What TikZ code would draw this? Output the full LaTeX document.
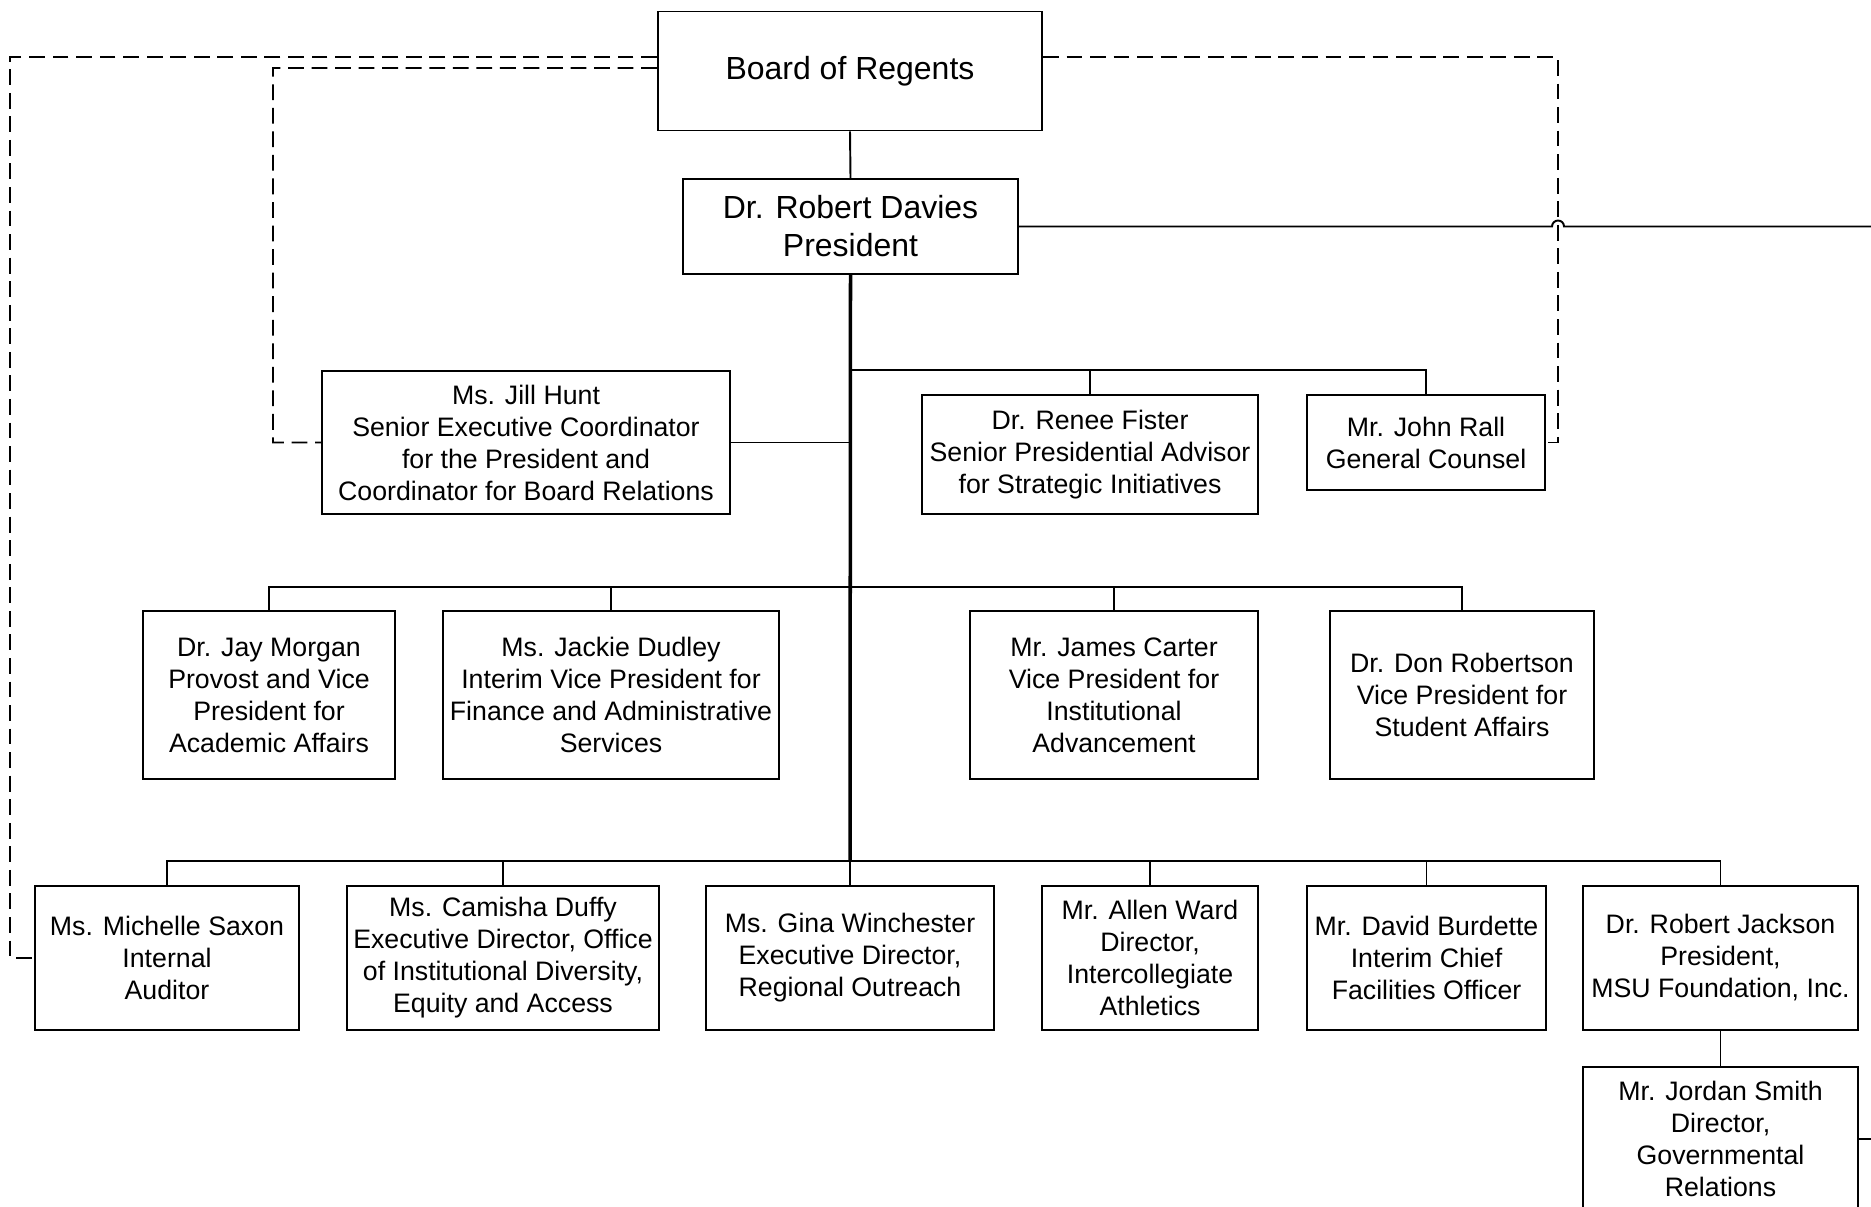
\documentclass[tikz,border=0pt]{standalone}
\usepackage{fontspec}
\setmainfont{Liberation Sans}
\usepackage{tikz}
\usetikzlibrary{positioning}

\begin{document}
\begin{tikzpicture}[
    unit/.style={rectangle, draw, line width=0.55pt, align=center, inner sep=1pt,
        font=\fontsize{7.6}{9.1}\selectfont},
    top/.style={unit, font=\fontsize{9.1}{10.8}\selectfont},
    link/.style={line width=0.55pt},
    trunk/.style={line width=1pt},
    dotted link/.style={line width=0.55pt, dash pattern=on 4.5pt off 2.2pt}
]
    \useasboundingbox (0,0) rectangle (18.71,-12.07);

    % Board and President
    \node[top, minimum width=3.84cm, minimum height=1.19cm] (board) at (8.50,-0.71) {Board of Regents};
    \node[top, minimum width=3.35cm, minimum height=0.95cm] (pres) at (8.505,-2.265) {Dr. Robert Davies\\President};

    % Staff level
    \node[unit, minimum width=4.08cm, minimum height=1.43cm] (hunt) at (5.26,-4.425) {Ms. Jill Hunt\\Senior Executive Coordinator\\for the President and\\Coordinator for Board Relations};
    \node[unit, minimum width=3.36cm, minimum height=1.19cm] (fister) at (10.90,-4.545) {Dr. Renee Fister\\Senior Presidential Advisor\\for Strategic Initiatives};
    \node[unit, minimum width=2.38cm, minimum height=0.95cm] (rall) at (14.26,-4.425) {Mr. John Rall\\General Counsel};

    % Vice presidents
    \node[unit, minimum width=2.52cm, minimum height=1.68cm] (morgan) at (2.69,-6.95) {Dr. Jay Morgan\\Provost and Vice\\President for\\Academic Affairs};
    \node[unit, minimum width=3.36cm, minimum height=1.68cm] (dudley) at (6.11,-6.95) {Ms. Jackie Dudley\\Interim Vice President for\\Finance and Administrative\\Services};
    \node[unit, minimum width=2.88cm, minimum height=1.68cm] (carter) at (11.14,-6.95) {Mr. James Carter\\Vice President for\\Institutional\\Advancement};
    \node[unit, minimum width=2.64cm, minimum height=1.68cm] (robertson) at (14.62,-6.95) {Dr. Don Robertson\\Vice President for\\Student Affairs};

    % Directors
    \node[unit, minimum width=2.64cm, minimum height=1.44cm] (saxon) at (1.67,-9.58) {Ms. Michelle Saxon\\Internal\\Auditor};
    \node[unit, minimum width=3.12cm, minimum height=1.44cm] (duffy) at (5.03,-9.58) {Ms. Camisha Duffy\\Executive Director, Office\\of Institutional Diversity,\\Equity and Access};
    \node[unit, minimum width=2.88cm, minimum height=1.44cm] (winch) at (8.50,-9.58) {Ms. Gina Winchester\\Executive Director,\\Regional Outreach};
    \node[unit, minimum width=2.16cm, minimum height=1.44cm] (ward) at (11.50,-9.58) {Mr. Allen Ward\\Director,\\Intercollegiate\\Athletics};
    \node[unit, minimum width=2.39cm, minimum height=1.44cm] (burd) at (14.265,-9.58) {Mr. David Burdette\\Interim Chief\\Facilities Officer};
    \node[unit, minimum width=2.75cm, minimum height=1.44cm] (jackson) at (17.205,-9.58) {Dr. Robert Jackson\\President,\\MSU Foundation, Inc.};
    \node[unit, minimum width=2.75cm, minimum height=1.44cm] (smith) at (17.205,-11.39) {Mr. Jordan Smith\\Director,\\Governmental\\Relations};

    % Bus points
    \coordinate (busA) at (8.50,-3.70);
    \coordinate (busB) at (8.50,-5.87);
    \coordinate (busC) at (8.50,-8.61);
    \coordinate (hop) at (15.58,-2.265);
    \coordinate (presOut) at (18.71,-2.265);
    \coordinate (smithOut) at (18.71,-11.39);
    \coordinate (outerL) at (0.10,-0.57);
    \coordinate (innerL) at (2.73,-0.68);
    \coordinate (outerR) at (15.58,-0.57);

    % Solid lines
    \draw[link] (board.south) -- (pres.north);
    \draw[trunk] (pres.south) -- (busC);
    \draw[link] (pres.east) -- ([xshift=-0.6mm]hop) arc[start angle=180, end angle=0, radius=0.6mm] -- (presOut);
    \draw[link] (hunt.east) -- (hunt.east -| busA);
    \draw[link] (busA) -| (rall.north);
    \draw[link] (fister.north) -- (fister.north |- busA);
    \draw[link] (morgan.north) |- (busB) -| (robertson.north);
    \foreach \n in {dudley, carter}
        \draw[link] (\n.north) -- (\n.north |- busB);
    \draw[link] (saxon.north) |- (busC) -| (jackson.north);
    \foreach \n in {duffy, winch, ward, burd}
        \draw[link] (\n.north) -- (\n.north |- busC);
    \draw[link] (jackson.south) -- (smith.north);
    \draw[link] (smith.east) -- (smithOut);

    % Dashed lines
    \draw[dotted link] ([yshift=1.4mm]board.west) -- (outerL) |- (saxon.west);
    \draw[dotted link] ([yshift=0.3mm]board.west) -- (innerL) |- (hunt.west);
    \draw[dotted link] ([yshift=1.4mm]board.east) -- (outerR) |- (rall.east);
\end{tikzpicture}
\end{document}
